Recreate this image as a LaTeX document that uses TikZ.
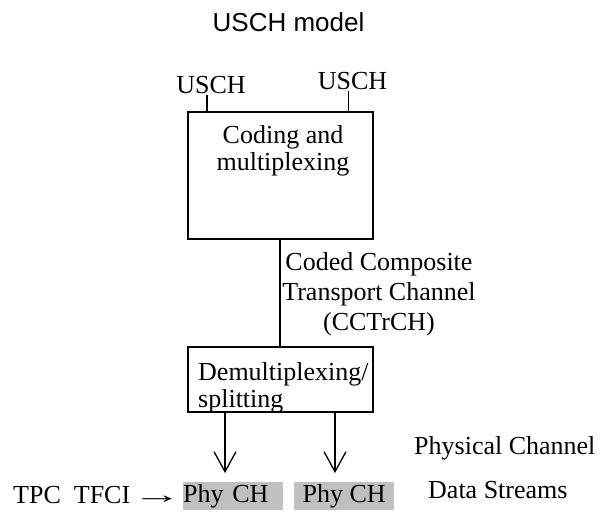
\documentclass[tikz,border=0pt]{standalone}
\usepackage{fontspec}
\setmainfont{Liberation Serif}
\newfontfamily\titlefont{Liberation Sans}
\usetikzlibrary{arrows.meta}
\begin{document}
\begin{tikzpicture}[x=1pt,y=-1pt,
  txt/.style={inner sep=0pt, font=\fontsize{26}{27}\selectfont},
  box/.style={draw, line width=1.3pt, inner sep=0pt},
  wire/.style={line width=1.3pt},
  arr/.style={line width=1.3pt, -{Straight Barb[length=20pt,width=22pt,line width=1.3pt]}},
  phy/.style={fill={rgb,255:red,192;green,192;blue,192}, inner sep=0pt, minimum width=100pt, minimum height=28pt, font=\fontsize{26}{27}\selectfont}]
\useasboundingbox (0,0) rectangle (611,515);

\node[txt, font=\titlefont\fontsize{26}{27}\selectfont, anchor=base] (title) at (288.5,31) {USCH model};

\node[box, minimum width=185pt, minimum height=127pt] (cm) at (280.5,175.5) {};
\node[txt, align=center, anchor=base] (cmt) at (283,170) {Coding and\\multiplexing};

\node[txt, anchor=base, inner ysep=2pt] (u1) at (211,93) {USCH};
\node[txt, anchor=base, inner ysep=2pt] (u2) at (352.5,89) {USCH};
\draw[wire] ([xshift=-4pt]u1.south) -- ([xshift=-4pt]u1.south |- cm.north);
\draw[wire] ([xshift=-4pt]u2.south) -- ([xshift=-4pt]u2.south |- cm.north);

\node[box, minimum width=185pt, minimum height=65pt] (dm) at (280.5,379.5) {};
\node[txt, align=left, anchor=base west] (dmt) at (198,407) {Demultiplexing/\\splitting};

\draw[wire] ([xshift=-0.5pt]cm.south) -- ([xshift=-0.5pt]cm.south |- dm.north);
\node[txt, align=center, anchor=base, font=\fontsize{26}{30}\selectfont] (cct) at (379,330) {Coded Composite\\Transport Channel\\(CCTrCH)};

\coordinate (a1) at (225,473);
\coordinate (a2) at (335,473);
\draw[arr] (a1 |- dm.south) -- (a1);
\draw[arr] (a2 |- dm.south) -- (a2);

\node[phy, text width=100pt, align=left, anchor=north west] (p1) at (183,482) {Phy CH};
\node[phy, anchor=north west] (p2) at (294,482) {Phy CH};

\node[txt, anchor=base west] (tpc) at (13,503) {TPC\ \ TFCI};
\node[txt, anchor=base east] (to) at (182,503) {\scalebox{1.9}[1]{→}};

\node[txt, anchor=base west] (pc) at (414,454) {Physical Channel};
\node[txt, anchor=base west] (ds) at (428,498) {Data Streams};
\end{tikzpicture}
\end{document}
